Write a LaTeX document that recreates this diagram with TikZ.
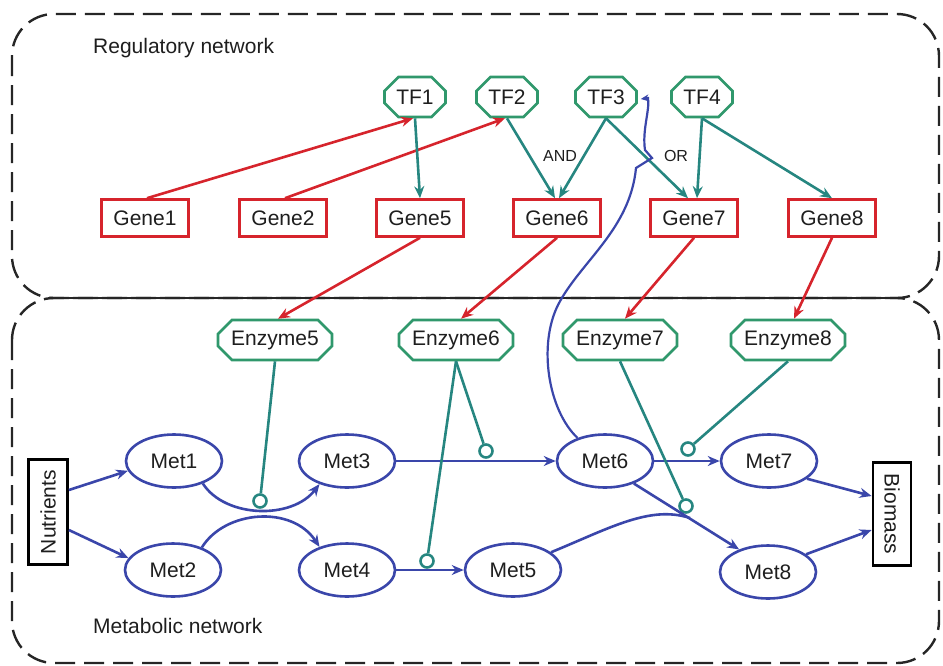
\documentclass[tikz,border=0pt]{standalone}
\usepackage{fontspec}
\setmainfont{Liberation Sans}
\usetikzlibrary{shapes.misc,shapes.geometric,arrows.meta}
\definecolor{cred}{RGB}{214,36,44}
\definecolor{cteal}{RGB}{38,134,128}
\definecolor{cgreen}{RGB}{48,152,108}
\definecolor{cblue}{RGB}{58,70,170}
\definecolor{ctext}{RGB}{30,30,30}
\begin{document}
\begin{tikzpicture}[x=1pt,y=-1pt, font=\fontsize{21}{25}\selectfont, text=ctext,
 tfbox/.style={chamfered rectangle, chamfered rectangle xsep=7pt, chamfered rectangle ysep=7pt, draw=cgreen, line width=2.6pt, fill=white, minimum width=61pt, minimum height=40pt, inner sep=1pt},
 enzbox/.style={tfbox, minimum width=114pt},
 genebox/.style={rectangle, draw=cred, line width=2.6pt, fill=white, minimum width=87pt, minimum height=37pt, inner sep=1pt},
 metbox/.style={ellipse, draw=cblue, line width=2.6pt, fill=white, minimum width=96pt, minimum height=53pt, inner sep=0pt},
 iobox/.style={rectangle, draw=black, line width=2.8pt, fill=white, minimum width=105pt, minimum height=39pt, inner sep=1pt},
 regionbox/.style={draw=black!85, line width=2.4pt, dash pattern=on 20pt off 9pt, rounded corners=42pt},
 redarr/.style={draw=cred, line width=2.6pt, -{Stealth[length=12pt,width=10pt]}},
 tealarr/.style={draw=cteal, line width=2.6pt, -{Stealth[length=12pt,width=10pt]}},
 tealline/.style={draw=cteal, line width=2.6pt},
 blarr/.style={draw=cblue, line width=2.6pt, -{Stealth[length=12pt,width=10pt]}},
 blline/.style={draw=cblue, line width=2.6pt},
 ring/.style={circle, draw=cteal, line width=2.6pt, fill=white, minimum size=13pt, inner sep=0pt},
 lbl/.style={font=\fontsize{16}{19}\selectfont, text=ctext, inner sep=1pt}
]
\useasboundingbox (0,0) rectangle (943,665);

% region boxes
\draw[regionbox] (12,14) rectangle (939,298);
\draw[regionbox] (12,298) rectangle (939,663);
\draw[draw=black!85, line width=2.6pt] (48,298) -- (903,298);
\node[anchor=west, inner sep=0pt] (regl) at (93,48) {Regulatory network};
\node[anchor=west, inner sep=0pt] (metl) at (93,626) {Metabolic network};

% TFs
\node[tfbox] (tf1) at (415,97) {TF1};
\node[tfbox] (tf2) at (507,97) {TF2};
\node[tfbox] (tf3) at (606,97) {TF3};
\node[tfbox] (tf4) at (702,97) {TF4};

% Genes
\node[genebox] (g1) at (145,218) {Gene1};
\node[genebox] (g2) at (283,218) {Gene2};
\node[genebox] (g5) at (420,218) {Gene5};
\node[genebox] (g6) at (557,218) {Gene6};
\node[genebox] (g7) at (694,218) {Gene7};
\node[genebox] (g8) at (832,218) {Gene8};

% Enzymes
\node[enzbox] (e5) at (275,340) {Enzyme5};
\node[enzbox] (e6) at (456,340) {Enzyme6};
\node[enzbox] (e7) at (620,340) {Enzyme7};
\node[enzbox] (e8) at (788,340) {Enzyme8};

% Metabolites
\node[metbox] (m1) at (174,461) {Met1};
\node[metbox] (m3) at (347,461) {Met3};
\node[metbox] (m6) at (605,461) {Met6};
\node[metbox] (m7) at (769,461) {Met7};
\node[metbox] (m2) at (173,570) {Met2};
\node[metbox] (m4) at (347,570) {Met4};
\node[metbox] (m5) at (513,570) {Met5};
\node[metbox] (m8) at (768,572) {Met8};
\node[iobox, rotate=90] (nut) at (48,512) {Nutrients};
\node[iobox, rotate=-90, minimum width=103pt, minimum height=38pt] (bio) at (892,514) {Biomass};

% rings (enzyme action points)
\node[ring] (r5) at (260,501) {};
\node[ring] (r6a) at (486,451) {};
\node[ring] (r6b) at (427,561) {};
\node[ring] (r7) at (686,506) {};
\node[ring] (r8) at (688,449) {};

% labels
\node[lbl] (andl) at (560,156) {AND};
\node[lbl] (orl) at (676,156) {OR};

% regulatory edges
\draw[redarr] ([xshift=2pt]g1.north) -- ([xshift=-2pt]tf1.south);
\draw[redarr] ([xshift=2pt]g2.north) -- ([xshift=-2pt]tf2.south);
\draw[tealarr] (tf1.south) -- (g5.north);
\draw[tealarr] (tf2.south) -- ([xshift=-2pt]g6.north);
\draw[tealarr] (tf3.south) -- ([xshift=2pt]g6.north);
\draw[tealarr] (tf3.south) -- ([xshift=-6pt]g7.north);
\draw[tealarr] (tf4.south) -- ([xshift=3pt]g7.north);
\draw[tealarr] (tf4.south) -- (g8.north);

% gene -> enzyme
\draw[redarr] (g5.south) -- ([xshift=3pt]e5.north);
\draw[redarr] (g6.south) -- ([xshift=5pt]e6.north);
\draw[redarr] (g7.south) -- ([xshift=5pt]e7.north);
\draw[redarr] (g8.south) -- ([xshift=6pt]e8.north);

% metabolic edges
\draw[blarr] ([yshift=22pt]nut.south) -- (m1.192);
\draw[blarr] ([yshift=-18pt]nut.south) -- (m2.165);
\draw[blarr] (m1.-38) .. controls (225,518) and (292,520) .. (m3.-140);
\draw[blarr] (m2.38) .. controls (225,510) and (292,505) .. (m4.140);
\draw[blarr] (m3.east) -- (m6.west);
\draw[blarr] (m4.east) -- (m5.west);
\draw[blarr] (m6.east) -- (m7.west);
\draw[blarr] (m6.-38) -- (m8.142);
\draw[blline] (m5.25) .. controls (610,528) and (650,505) .. (690,518);
\draw[blarr] (m7.-25) -- ([yshift=18pt]bio.south);
\draw[blarr] (m8.25) -- ([yshift=-16pt]bio.south);

% feedback Met6 -> TF3 with hop
\draw[draw=cblue, line width=2.2pt, -{Stealth[length=8pt,width=7pt]}]
  (m6.140) .. controls (548,410) and (538,345) .. (558,305)
  .. controls (580,262) and (630,230) .. (636,168)
  -- (652,158) -- (645,150)
  .. controls (642,130) and (650,110) .. (648,98)
  -- ([xshift=3pt,yshift=-2pt]tf3.east);

% enzyme action lines
\draw[tealline] (e5.south) -- (r5);
\draw[tealline] (e6.south) -- (r6a);
\draw[tealline] (e6.south) -- (r6b);
\draw[tealline] (e7.south) -- (r7);
\draw[tealline] (e8.south) -- (r8);
\end{tikzpicture}
\end{document}
